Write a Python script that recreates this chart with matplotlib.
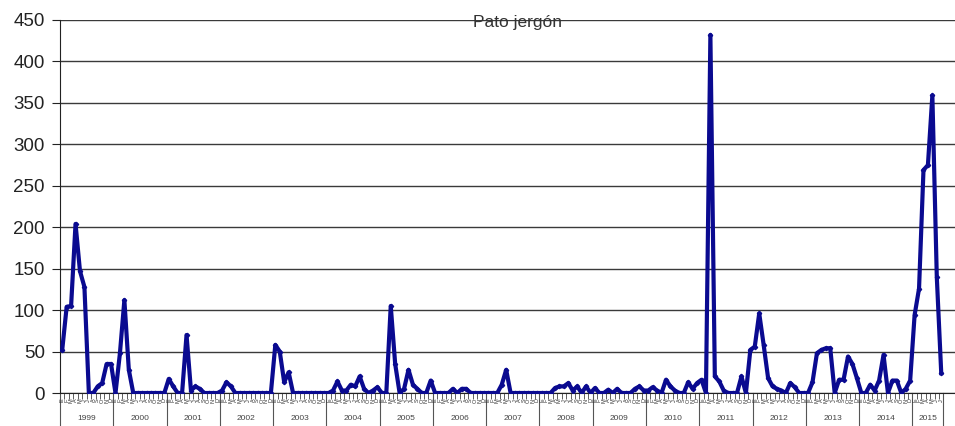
import matplotlib.pyplot as plt
from matplotlib import transforms
import numpy as np

plt.rcParams['font.family'] = ['Liberation Sans', 'DejaVu Sans']

# monthly counts
y1999 = [52, 104, 105, 204, 147, 128, 0, 0, 8, 12, 35, 35]
y2000 = [0, 48, 112, 28, 0, 0, 0, 0, 0, 0, 0, 0]
y2001 = [17, 8, 0, 0, 70, 3, 8, 5, 0, 0, 0, 0]
y2002 = [3, 13, 8, 0, 0, 0, 0, 0, 0, 0, 0, 0]
y2003 = [58, 50, 13, 25, 0, 0, 0, 0, 0, 0, 0, 0]
y2004 = [0, 3, 14, 3, 3, 10, 8, 20, 5, 0, 3, 7]
y2005 = [0, 0, 105, 35, 0, 5, 28, 10, 5, 0, 0, 15]
y2006 = [0, 0, 0, 0, 5, 0, 5, 5, 0, 0, 0, 0]
y2007 = [0, 0, 0, 10, 28, 0, 0, 0, 0, 0, 0, 0]
y2008 = [0, 0, 0, 6, 8, 8, 12, 3, 8, 0, 8, 0]
y2009 = [6, 0, 0, 4, 0, 5, 0, 0, 0, 5, 8, 3]
y2010 = [3, 7, 3, 0, 16, 8, 3, 0, 0, 13, 5, 12]
y2011 = [16, 0, 432, 20, 14, 3, 0, 0, 0, 20, 0, 52]
y2012 = [56, 96, 58, 18, 8, 5, 3, 0, 12, 7, 0, 0]
y2013 = [0, 13, 48, 52, 54, 54, 0, 16, 16, 44, 35, 18]
y2014 = [0, 0, 10, 3, 15, 46, 0, 15, 15, 0, 5, 15]
y2015 = [94, 126, 269, 275, 359, 140, 24]

years = ['1999', '2000', '2001', '2002', '2003', '2004', '2005', '2006', '2007',
         '2008', '2009', '2010', '2011', '2012', '2013', '2014', '2015']
months = ['E', 'F', 'M', 'A', 'M', 'J', 'J', 'A', 'S', 'O', 'N', 'D']

series = [y1999, y2000, y2001, y2002, y2003, y2004, y2005, y2006, y2007,
          y2008, y2009, y2010, y2011, y2012, y2013, y2014, y2015]
values = np.concatenate(series)
x = np.arange(len(values))

fig = plt.figure(figsize=(9.55, 4.26), dpi=100)
ax = fig.add_axes([60/955, 1 - 393/426, 1 - 60/955, 373/426])

ax.plot(x, values, color='#0a0a90', lw=3, marker='D', ms=2.2, zorder=3)

ax.set_xlim(-0.5, 201.1)
ax.set_ylim(0, 450)
ax.set_yticks(range(0, 451, 50))
ax.yaxis.grid(True, color='#3a3a3a', lw=1)
ax.set_axisbelow(True)
for s in ['top', 'right']:
    ax.spines[s].set_visible(False)
ax.spines['left'].set_color('#222')
ax.spines['bottom'].set_color('#222')
ax.tick_params(axis='y', length=6, labelsize=13.5, pad=5, colors='#222')

# month ticks and tiny labels
ax.set_xticks(np.arange(-0.5, len(values), 1))
ax.set_xticklabels([])
ax.tick_params(axis='x', length=4, width=0.6, color='#444')
trans = transforms.blended_transform_factory(ax.transData, ax.transAxes)
for i in range(len(values)):
    ax.text(i, -0.02, months[i % 12], rotation=90, fontsize=4, ha='center',
            va='center', transform=trans, color='#333')

# year groups
start = -0.5
for yr, s in zip(years, series):
    end = start + len(s)
    ax.plot([start, start], [0, -0.09], transform=trans, clip_on=False,
            color='#555', lw=0.8)
    ax.text((start + end) / 2, -0.068, yr, fontsize=6, ha='center',
            va='center', transform=trans, color='#444')
    start = end
ax.plot([start, start], [0, -0.09], transform=trans, clip_on=False,
        color='#555', lw=0.8)

fig.text(517/955, 1 - 23/426, 'Pato jergón', ha='center', va='center',
         fontsize=12.5, color='#333')

fig.savefig('out.png', dpi=100)
